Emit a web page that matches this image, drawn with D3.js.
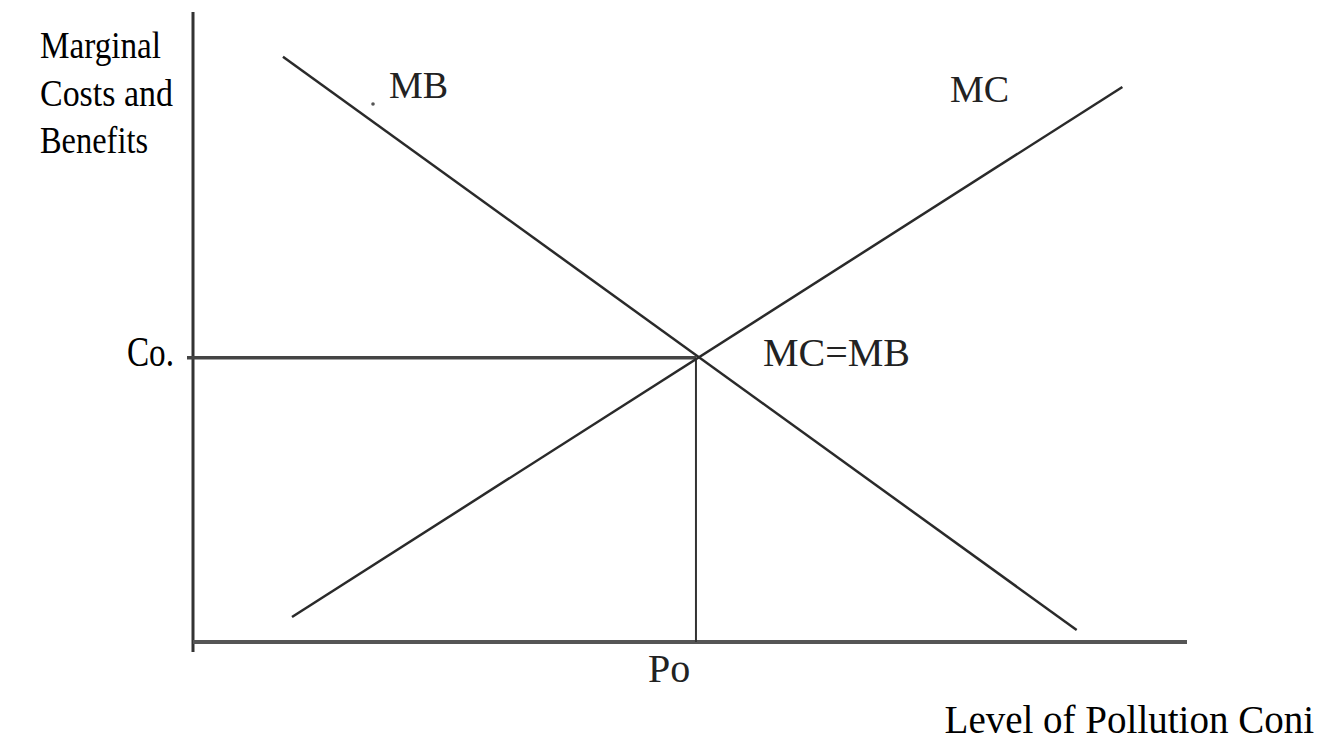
<!DOCTYPE html>
<html>
<head>
<meta charset="utf-8">
<script src="https://cdn.jsdelivr.net/npm/d3@7"></script>
<style>
    body { margin: 0; background: #fff; }
    svg text { font-family: "Liberation Serif", "Times New Roman", serif; }
</style>
</head>
<body>
<div id="chart"></div>
<script>
// Curve end points, in chart units (0..100 on both axes)
var mbPoints = [[9.05, 92.9], [88.9, 1.9]];
var mcPoints = [[9.96, 3.97], [93.5, 88.1]];

// Equilibrium level where MC = MB
var equilibrium = [50.6, 45.1];

// Labels
var yLabelLines = ["Marginal", "Costs  and", "Benefits"];
var xLabel = "Level of Pollution Coni";
var curveLabels = ["MB", "MC", "MC=MB"];
var tickLabels = ["Co.", "Po"];

var width = 1319,
    height = 741;

// Set the ranges
var x = d3.scaleLinear().domain([0, 100]).range([193, 1187]);
var y = d3.scaleLinear().domain([0, 100]).range([642, 12]);

var svg = d3.select("#chart")
    .append("svg")
        .attr("width", width)
        .attr("height", height);

var line = d3.line()
    .x(function(d) { return x(d[0]); })
    .y(function(d) { return y(d[1]); });

// Axes, drawn as plain lines with no ticks
svg.append("line")
    .attr("x1", x(0)).attr("x2", x(0))
    .attr("y1", y(100)).attr("y2", y(0) + 10)
    .attr("stroke", "#333").attr("stroke-width", 3);

svg.append("line")
    .attr("x1", x(0)).attr("x2", x(100))
    .attr("y1", y(0)).attr("y2", y(0))
    .attr("stroke", "#555").attr("stroke-width", 4);

// Guide lines to the equilibrium
svg.append("line")
    .attr("x1", x(0) - 6).attr("x2", x(equilibrium[0]))
    .attr("y1", y(equilibrium[1])).attr("y2", y(equilibrium[1]))
    .attr("stroke", "#444").attr("stroke-width", 3.5);

svg.append("line")
    .attr("x1", x(equilibrium[0])).attr("x2", x(equilibrium[0]))
    .attr("y1", y(equilibrium[1])).attr("y2", y(0))
    .attr("stroke", "#333").attr("stroke-width", 2);

// MB and MC curves
svg.append("path")
    .attr("d", line(mbPoints))
    .attr("fill", "none").attr("stroke", "#2a2a2a").attr("stroke-width", 2.5);

svg.append("path")
    .attr("d", line(mcPoints))
    .attr("fill", "none").attr("stroke", "#2a2a2a").attr("stroke-width", 2.5);

// small stray dot beside the MB label
svg.append("circle")
    .attr("cx", 373).attr("cy", 104).attr("r", 1.8)
    .attr("fill", "#555");

// Y axis title, three lines
var yLens = [121, 133, 108];
svg.selectAll(".ylab")
    .data(yLabelLines)
    .enter().append("text")
        .attr("class", "ylab")
        .attr("x", 40)
        .attr("y", function(d, i) { return 58 + i * 47.5; })
        .attr("font-size", 38)
        .attr("textLength", function(d, i) { return yLens[i]; })
        .attr("lengthAdjust", "spacingAndGlyphs")
        .attr("fill", "#000")
        .text(function(d) { return d; });

// X axis title, sized so it stays inside the right edge
svg.append("text")
    .attr("x", 1314)
    .attr("y", 733)
    .attr("text-anchor", "end")
    .attr("font-size", 39)
    .attr("fill", "#000")
    .text(xLabel);

// Co. and Po labels
svg.append("text")
    .attr("x", 127)
    .attr("y", y(equilibrium[1]) + 8)
    .attr("font-size", 42)
    .attr("textLength", 47)
    .attr("lengthAdjust", "spacingAndGlyphs")
    .attr("fill", "#000")
    .text(tickLabels[0]);

svg.append("text")
    .attr("x", x(equilibrium[0]) - 48)
    .attr("y", 682)
    .attr("font-size", 40)
    .attr("fill", "#222")
    .text(tickLabels[1]);

// Curve labels
var labelPos = [[389, 98], [950, 102], [763, 366]];
var labelSize = [38, 38, 40];
svg.selectAll(".clab")
    .data(curveLabels)
    .enter().append("text")
        .attr("class", "clab")
        .attr("x", function(d, i) { return labelPos[i][0]; })
        .attr("y", function(d, i) { return labelPos[i][1]; })
        .attr("font-size", function(d, i) { return labelSize[i]; })
        .attr("fill", "#222")
        .text(function(d) { return d; });
</script>
</body>
</html>
